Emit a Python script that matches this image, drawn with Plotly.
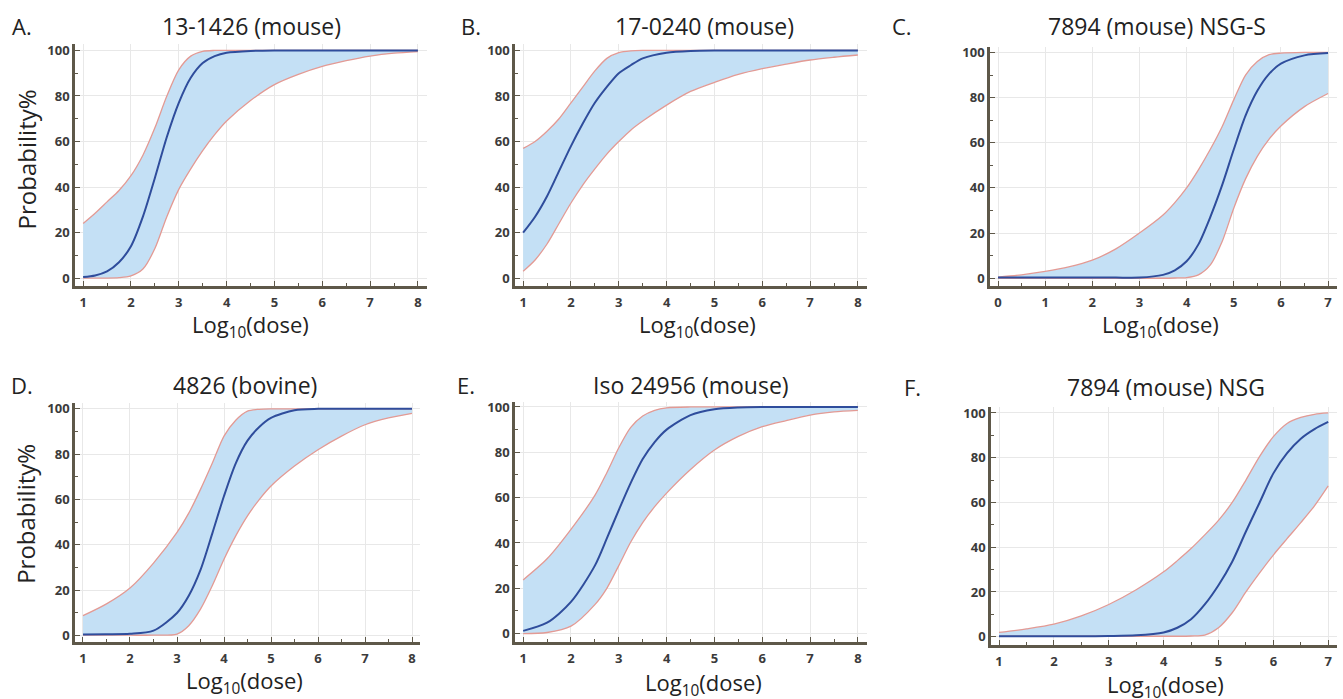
import plotly.graph_objects as go

# ---------------- data ----------------
titles = ["13-1426 (mouse)", "17-0240 (mouse)", "7894 (mouse) NSG-S",
          "4826 (bovine)", "Iso 24956 (mouse)", "7894 (mouse) NSG"]
letters = ["A.", "B.", "C.", "D.", "E.", "F."]

A_x = [1, 1.25, 1.5, 1.75, 2, 2.25, 2.5, 2.75, 3, 3.25, 3.5, 3.75, 4, 4.5, 5, 5.5, 6, 6.5, 7, 7.5, 8]
A_hi = [24, 28.5, 33.5, 38.5, 45, 54, 66, 80, 91.5, 97.5, 99.6, 100, 100, 100, 100, 100, 100, 100, 100, 100, 100]
A_mid = [0.5, 1.2, 3, 7, 14, 27, 44, 62, 77, 88, 94.5, 97.5, 99, 99.8, 100, 100, 100, 100, 100, 100, 100]
A_lo = [0, 0, 0, 0.2, 1, 4, 13, 27, 39, 48, 56, 63, 69, 78, 85, 89.5, 93, 95.5, 97.5, 98.8, 99.5]

B_x = [1, 1.25, 1.5, 1.75, 2, 2.25, 2.5, 2.75, 3, 3.25, 3.5, 4, 4.5, 5, 5.5, 6, 6.5, 7, 7.5, 8]
B_hi = [57, 60, 64.5, 70, 77, 84, 91, 96.5, 99, 99.8, 100, 100, 100, 100, 100, 100, 100, 100, 100, 100]
B_mid = [20, 27, 36, 47, 58, 68, 77, 84, 90, 93.5, 96.5, 99, 99.8, 100, 100, 100, 100, 100, 100, 100]
B_lo = [3, 8, 15, 24, 33, 41, 48, 54.5, 60, 65, 69, 76, 82, 86, 89.5, 92, 94, 95.8, 97, 98]

C_x = [0, 0.5, 1, 1.5, 2, 2.5, 3, 3.5, 3.75, 4, 4.25, 4.5, 4.75, 5, 5.25, 5.5, 5.75, 6, 6.5, 7]
C_hi = [0.5, 1.5, 3, 5, 8, 13, 20, 28, 33.5, 40, 48, 57, 67, 79, 90, 96, 99, 99.7, 100, 100]
C_mid = [0.3, 0.3, 0.3, 0.3, 0.3, 0.3, 0.3, 1.5, 3.5, 7.5, 15, 27, 41, 57, 72, 83, 90.5, 95, 98.7, 99.7]
C_lo = [0, 0, 0, 0, 0, 0, 0, 0, 0.1, 0.3, 1.5, 5.8, 16, 31, 44, 54, 61.6, 67.4, 76, 81.8]

D_x = [1, 1.5, 2, 2.5, 3, 3.25, 3.5, 3.75, 4, 4.25, 4.5, 4.75, 5, 5.5, 6, 6.5, 7, 7.5, 8]
D_hi = [8.8, 14, 21, 32, 45.5, 54, 64.5, 76, 88, 95, 99, 99.8, 100, 100, 100, 100, 100, 100, 100]
D_mid = [0.5, 0.6, 0.8, 2.2, 10, 17.6, 29, 45, 61.6, 76, 86, 92, 96, 99.4, 100, 100, 100, 100, 100]
D_lo = [0.2, 0.2, 0.2, 0.2, 0.7, 4.4, 11.7, 22, 33.7, 44, 52.8, 60, 66, 74.8, 82, 88, 93, 96, 98]

E_x = [1, 1.5, 2, 2.5, 2.75, 3, 3.25, 3.5, 3.75, 4, 4.5, 5, 5.5, 6, 6.5, 7, 7.5, 8]
E_hi = [23.7, 33, 46, 61, 71, 82, 91, 96, 98.5, 99.6, 100, 100, 100, 100, 100, 100, 100, 100]
E_mid = [1.2, 4.8, 14, 30, 42, 54.5, 66.5, 77, 84.5, 90, 96.4, 99, 99.8, 100, 100, 100, 100, 100]
E_lo = [0, 0.5, 3.3, 12.8, 20, 30, 40.4, 49, 56, 62, 72.4, 81, 87, 91.3, 94, 96.4, 97.8, 98.5]

F_x = [1, 1.5, 2, 2.5, 3, 3.5, 4, 4.25, 4.5, 4.75, 5, 5.25, 5.5, 5.75, 6, 6.25, 6.5, 6.75, 7]
F_hi = [1.9, 3.5, 5.6, 9.3, 14.4, 21, 29, 34, 39.4, 45.5, 52, 60, 70, 80.6, 89.4, 95.3, 98, 99.4, 100]
F_mid = [0.2, 0.2, 0.2, 0.2, 0.3, 0.6, 1.9, 4, 7.8, 14.4, 23, 33.5, 47, 60, 73, 82, 88.5, 92.8, 96]
F_lo = [0.2, 0.2, 0.2, 0.2, 0.2, 0.2, 0.2, 0.2, 0.3, 0.7, 4, 10.7, 20, 28.5, 36.5, 43.8, 51, 58.5, 67.4]

x_ticks_18 = [1, 2, 3, 4, 5, 6, 7, 8]
x_ticks_07 = [0, 1, 2, 3, 4, 5, 6, 7]
x_ticks_17 = [1, 2, 3, 4, 5, 6, 7]
y_ticks = [0, 20, 40, 60, 80, 100]

panels = [
    (A_x, A_lo, A_mid, A_hi, x_ticks_18),
    (B_x, B_lo, B_mid, B_hi, x_ticks_18),
    (C_x, C_lo, C_mid, C_hi, x_ticks_07),
    (D_x, D_lo, D_mid, D_hi, x_ticks_18),
    (E_x, E_lo, E_mid, E_hi, x_ticks_18),
    (F_x, F_lo, F_mid, F_hi, x_ticks_17),
]

# ---------------- layout geometry (pixels) ----------------
W, H = 1343, 699
# (left, right, top, bottom) pixel box of each plot area, x-range, y-range
boxes = [
    ((75, 427, 40, 285), [0.83, 8.19], [-3.5, 103]),
    ((515, 867, 40, 285), [0.83, 8.19], [-3.5, 103]),
    ((990, 1337, 43, 285), [-0.17, 7.19], [-3.5, 102.6]),
    ((75, 420, 403, 644), [0.83, 8.17], [-2.6, 102.6]),
    ((515, 867, 402, 644), [0.83, 8.19], [-3.5, 102.2]),
    ((991, 1337, 407, 647), [0.854, 7.16], [-3.5, 102.7]),
]
title_pos = [(252, 22), (704, 22), (1157, 22), (245, 385), (691, 385), (1166, 387)]
letter_pos = [(22, 22), (471, 22), (902, 22), (22, 385), (466, 385), (912, 387)]
xlab_pos = [(250, 325), (697, 325), (1160, 325), (244, 685), (703, 687), (1165, 689)]
ylab_pos = [(26, 157), (26, 515)]

FILL = "rgba(196,224,245,1)"
EDGE = "#e39a94"
MID = "#2f4d9c"
AXC = "#5e5849"
GRID = "#e8e8e8"
FONT = "Open Sans"
TXT = "#222222"

fig = go.Figure()
layout = dict(width=W, height=H, margin=dict(l=0, r=0, t=0, b=0),
              paper_bgcolor="white", plot_bgcolor="white", showlegend=False,
              annotations=[])

for i, ((xs, lo, mid, hi, xt), (box, xr, yr)) in enumerate(zip(panels, boxes)):
    k = "" if i == 0 else str(i + 1)
    xa, ya = "x" + k, "y" + k
    sm = 0.8
    fig.add_trace(go.Scatter(x=xs, y=lo, xaxis=xa, yaxis=ya, mode="lines",
                             line=dict(width=0, shape="spline", smoothing=sm),
                             hoverinfo="skip"))
    fig.add_trace(go.Scatter(x=xs, y=hi, xaxis=xa, yaxis=ya, mode="lines",
                             line=dict(width=0, shape="spline", smoothing=sm),
                             fill="tonexty", fillcolor=FILL, hoverinfo="skip"))
    for s in (lo, hi):
        fig.add_trace(go.Scatter(x=xs, y=s, xaxis=xa, yaxis=ya, mode="lines",
                                 line=dict(color=EDGE, width=1.3, shape="spline", smoothing=sm)))
    fig.add_trace(go.Scatter(x=xs, y=mid, xaxis=xa, yaxis=ya, mode="lines",
                             line=dict(color=MID, width=2, shape="spline", smoothing=sm)))

    l, r, t, b = box
    axis_common = dict(showline=True, linecolor=AXC, linewidth=2.5, showgrid=True,
                       gridcolor=GRID, gridwidth=1, zeroline=False, ticks="inside",
                       ticklen=5, tickwidth=1.2, tickcolor=AXC,
                       tickfont=dict(family=FONT, size=13, color="#3b3b3b", weight="bold"))
    layout["xaxis" + k] = dict(domain=[l / W, r / W], range=xr, anchor=ya,
                               tickvals=xt, ticktext=[str(v) for v in xt],
                               ticklabelstandoff=3,
                               minor=dict(dtick=0.5, ticks="inside", ticklen=3,
                                          tickcolor=AXC, showgrid=False),
                               **axis_common)
    layout["yaxis" + k] = dict(domain=[1 - b / H, 1 - t / H], range=yr, anchor=xa,
                               tickvals=y_ticks, ticktext=[str(v) for v in y_ticks],
                               minor=dict(dtick=10, ticks="inside", ticklen=3,
                                          tickcolor=AXC, showgrid=False),
                               **axis_common)

    layout["annotations"].append(dict(
        text=titles[i], x=title_pos[i][0] / W, y=1 - title_pos[i][1] / H,
        xref="paper", yref="paper", showarrow=False, xanchor="center", yanchor="middle",
        font=dict(family=FONT, size=23, color=TXT)))
    layout["annotations"].append(dict(
        text=letters[i], x=letter_pos[i][0] / W, y=1 - letter_pos[i][1] / H,
        xref="paper", yref="paper", showarrow=False, xanchor="center", yanchor="middle",
        font=dict(family=FONT, size=22, color=TXT)))
    layout["annotations"].append(dict(
        text="Log<sub>10</sub>(dose)", x=xlab_pos[i][0] / W, y=1 - xlab_pos[i][1] / H,
        xref="paper", yref="paper", showarrow=False, xanchor="center", yanchor="middle",
        font=dict(family=FONT, size=22, color=TXT)))

for (px, py) in ylab_pos:
    layout["annotations"].append(dict(
        text="Probability%", x=px / W, y=1 - py / H, textangle=-90,
        xref="paper", yref="paper", showarrow=False, xanchor="center", yanchor="middle",
        font=dict(family=FONT, size=24, color=TXT)))

fig.update_layout(**layout)
fig.write_html("out.html", config={"displayModeBar": False},
               post_script="document.body.style.margin='0';document.body.style.overflow='hidden';")
